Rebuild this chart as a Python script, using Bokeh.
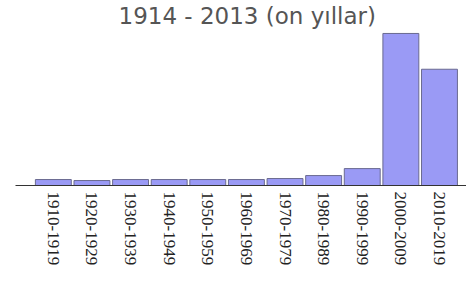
import math
from bokeh.plotting import figure
from bokeh.models import Range1d, FixedTicker, ColumnDataSource
from bokeh.embed import file_html
from bokeh.resources import INLINE

decades = ["1910-1919", "1920-1929", "1930-1939", "1940-1949", "1950-1959",
           "1960-1969", "1970-1979", "1980-1989", "1990-1999", "2000-2009", "2010-2019"]
counts = [6, 5, 6, 6, 6, 6, 7, 10, 17, 153, 117]
title_text = "1914 - 2013 (on yıllar)"

idx = list(range(len(decades)))
src = ColumnDataSource(dict(x=idx, top=counts))

p = figure(width=466, height=268, output_backend="svg", toolbar_location=None,
           x_range=Range1d(-0.98, 10.7), y_range=Range1d(0, 158),
           min_border_left=15, min_border_right=0, min_border_bottom=75, min_border_top=0)
p.title.text = title_text
p.title.align = "left"
p.title.offset = 103
p.title.text_font = "DejaVu Sans"
p.title.text_font_size = "23px"
p.title.text_font_style = "normal"
p.title.text_color = "#555555"
p.title.standoff = 0

p.vbar(x="x", top="top", bottom=0, width=0.93, source=src,
       fill_color="#9a9af5", line_color="#6a6a90", line_width=1)

p.xgrid.visible = False
p.ygrid.visible = False
p.yaxis.visible = False
p.outline_line_color = None

ax = p.xaxis[0]
ax.ticker = FixedTicker(ticks=idx)
ax.major_label_overrides = {i: d for i, d in zip(idx, decades)}
ax.major_label_orientation = -math.pi / 2
ax.major_label_text_font = "Liberation Serif"
ax.major_label_text_font_size = "17px"
ax.major_label_text_color = "#222222"
ax.major_label_standoff = 0
ax.major_tick_line_color = None
ax.minor_tick_line_color = None
ax.axis_line_color = "#333333"

open("out.html", "w").write(file_html(p, INLINE))
